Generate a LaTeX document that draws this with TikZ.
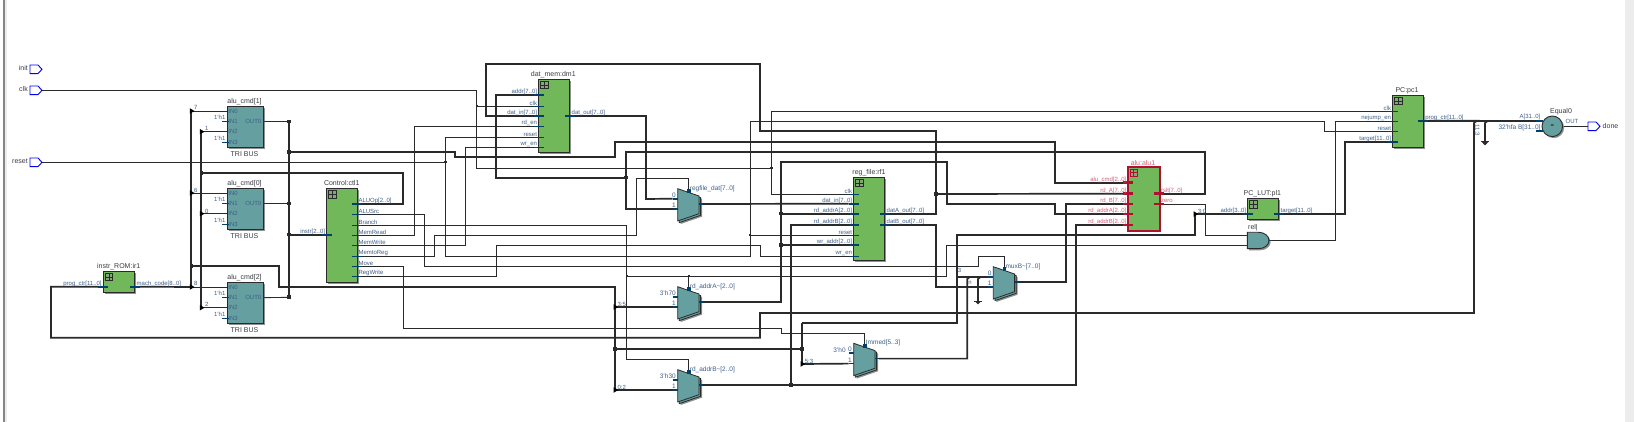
\documentclass[tikz,border=0pt]{standalone}
\usepackage{fontspec}
\setmainfont{Liberation Sans}
\usetikzlibrary{backgrounds}
\definecolor{wirec}{HTML}{2A2A2A}
\definecolor{pinc}{HTML}{00406A}
\definecolor{blockg}{HTML}{70B85A}
\definecolor{blockt}{HTML}{669F9F}
\definecolor{shadowc}{HTML}{909090}
\definecolor{plabc}{HTML}{3E5F8A}
\definecolor{instc}{HTML}{3A3A45}
\definecolor{alur}{HTML}{B01030}
\definecolor{alup}{HTML}{D0607A}
\definecolor{portb}{HTML}{0000F0}
\definecolor{stripd}{HTML}{858585}
\definecolor{stripl}{HTML}{ECECEC}
\newcounter{lbl}
\tikzset{
  W/.style={draw=wirec,line width=.85pt},
  B/.style={draw=wirec,line width=1.7pt},
  thn/.style={draw=pinc,line width=.85pt},
  thk/.style={draw=pinc,line width=1.7pt},
  plab/.style={text=plabc,font=\fontsize{6}{7}\selectfont,inner sep=0pt},
  ilab/.style={text=instc,font=\fontsize{7}{8}\selectfont,inner sep=0pt},
  tlab/.style={text=plabc,font=\fontsize{6.5}{7}\selectfont,inner sep=0pt},
  grbox/.style={draw=wirec,line width=.9pt,fill=blockg,inner sep=0pt,outer sep=0pt},
  tlbox/.style={draw=wirec,line width=.9pt,fill=blockt,inner sep=0pt,outer sep=0pt},
  redbox/.style={draw=alur,line width=2pt,fill=blockg,inner sep=0pt,outer sep=0pt},
  iconl/.style={draw=wirec,line width=.9pt,fill=blockg!70!black!70},
  pinl/.style={},
}
\newcommand\txt[4][plab]{\stepcounter{lbl}\node[#1,#4] (t\thelbl) at (#2) {#3};}
% block: name x1 y1 x2 y2 style
\newcommand\blk[6]{%
  \fill[shadowc] ({#2+1.6},{#3+1.6}) rectangle ({#4+1.6},{#5+1.6});
  \node[#6,minimum width={(#4-(#2))*1pt},minimum height={(#5-(#3))*1pt}] (#1) at ({(#2+#4)/2},{(#3+#5)/2}) {};}
\newcommand\icon[2]{%
  \draw[iconl] ({#1+2},{#2+2}) rectangle ({#1+9.5},{#2+9.5});
  \draw[iconl] ({#1+5.75},{#2+2}) -- ({#1+5.75},{#2+9.5}) ({#1+2},{#2+5.75}) -- ({#1+9.5},{#2+5.75});}
\newcommand\pinL[5]{%
  \coordinate (#1) at ({#2-5},#3);
  \draw[#5,pinl] ({#2-5},#3) -- ({#2+5},#3);
  \txt{{#2-1.5},{#3-3.2}}{#4}{anchor=east}}
\newcommand\pinR[5]{%
  \coordinate (#1) at ({#2+5},#3);
  \draw[#5,pinl] ({#2-5},#3) -- ({#2+5},#3);
  \txt{{#2+1.8},{#3-3.2}}{#4}{anchor=west}}
\newcommand\tribus[2]{%
  \blk{#1}{227.7}{#2}{263.3}{#2+40.6}{tlbox}
  \coordinate (#1-in0) at (227.7,{#2+4.3});
  \coordinate (#1-in2) at (227.7,{#2+25});
  \coordinate (#1-out) at (263.3,{#2+15});
  \draw[thn] (222.3,{#2+15}) -- (228.5,{#2+15});
  \draw[thn] (222.3,{#2+35.3}) -- (228.5,{#2+35.3});
  \draw[thn] (263.3,{#2+15}) -- (267,{#2+15});
  \foreach \yy/\tt in {4.3/IN0,15/IN1,25/IN2,35.3/IN3}{\txt{233,{#2+\yy}}{\tt}{}}
  \txt{253.3,{#2+15}}{OUT0}{}
  \txt{219.7,{#2+10.6}}{1'h1}{}
  \txt{219.7,{#2+32}}{1'h1}{}
  \txt[ilab]{244.5,{#2+47.4}}{TRI BUS}{}}
% mux: name xl yt label
\newcommand\muxc[4]{%
  \fill[shadowc] ({#2+3},{#3+3}) -- ({#2+24.3},{#3+10.3}) -- ({#2+24.3},{#3+28}) -- ({#2+3},{#3+35.3}) -- cycle;
  \draw[draw=wirec,fill=blockt,line width=.8pt] ({#2+1.6},{#3+1.6}) -- ({#2+22.9},{#3+8.9}) -- ({#2+22.9},{#3+26.6}) -- ({#2+1.6},{#3+33.9}) -- cycle;
  \draw[draw=wirec,fill=blockt,line width=.8pt] (#2,#3) -- ({#2+21.3},{#3+7.3}) -- ({#2+21.3},{#3+25}) -- (#2,{#3+32.3}) -- cycle;
  \coordinate (#1-in0) at ({#2-5},{#3+10});
  \coordinate (#1-in1) at ({#2-5},{#3+20.3});
  \coordinate (#1-out) at ({#2+25.3},{#3+15.3});
  \coordinate (#1-sel) at ({#2+11},{#3+2.6});
  \draw[thk] ({#2-5},{#3+10}) -- (#2,{#3+10});
  \draw[thk] ({#2-5},{#3+20.3}) -- (#2,{#3+20.3});
  \draw[thk] ({#2+21.3},{#3+15.3}) -- ({#2+25.3},{#3+15.3});
  \fill[pinc] ({#2+9.2},{#3+.6}) rectangle ({#2+12.8},{#3+4.4});
  \txt[tlab]{{#2+12},{#3}}{#4}{anchor=west}
  \txt[tlab]{{#2-3.7},{#3+6.3}}{0}{}
  \txt[tlab]{{#2-3.7},{#3+16.6}}{1}{}}
\newcommand\inpent[3]{%
  \coordinate (#1) at (42,#2);
  \draw[portb,fill=white,line width=.9pt] (30,{#2-4.3}) -- (38,{#2-4.3}) -- (42,#2) -- (38,{#2+4.3}) -- (30,{#2+4.3}) -- cycle;
  \txt[ilab]{28,{#2-1}}{#3}{anchor=east}}
\newcommand\rip[3]{\coordinate (#1) at (#2,#3);\fill[black] ({#2-1.5},{#3-2.8}) -- ({#2+3.2},#3) -- ({#2-1.5},{#3+2.8}) -- cycle;}
\newcommand\jn[3]{\coordinate (#1) at (#2,#3);\fill[wirec] ({#2-1.8},{#3-1.8}) rectangle ({#2+1.8},{#3+1.8});}
\newcommand\jt[3]{\coordinate (#1) at (#2,#3);\fill[wirec] ({#2-1.2},{#3-1.2}) rectangle ({#2+1.2},{#3+1.2});}
\newcommand\gnd[2]{%
  \draw[wirec,line width=1pt] ({#1-3.6},#2) -- ({#1+3.6},#2);
  \fill[wirec] ({#1-3.2},#2) -- ({#1+3.2},#2) -- (#1,{#2+3.4}) -- cycle;}
\begin{document}
\begin{tikzpicture}[x=1pt,y=-1pt]
\useasboundingbox (0,0) rectangle (1634,422);
\begin{scope}[on background layer]
\fill[white] (0,0) rectangle (1634,422);
\fill[stripl] (4.5,0) rectangle (7.3,422);
\fill[stripd] (3,0) rectangle (4.5,422);
\fill[stripl] (1625,0) rectangle (1634,422);
\end{scope}
% I/O ports
\inpent{initp}{69.3}{init}
\inpent{clkp}{90.3}{clk}
\inpent{rstp}{162.3}{reset}
% instr ROM
\blk{ir}{103.3}{271.3}{134.7}{292.7}{grbox}
\icon{103.3}{271.3}
\txt[ilab]{118.7,266.7}{instr\_ROM:ir1}{}
\pinL{ir-in}{103.3}{286.7}{prog\_ctr[11..0]}{thk}
\pinR{ir-out}{134.7}{286.7}{mach\_code[8..0]}{thk}
% tri bus
\tribus{cmda}{106.7}
\tribus{cmdb}{188.7}
\tribus{cmdc}{282.7}
\txt[ilab]{244.5,101.7}{alu\_cmd[1]}{}
\txt[ilab]{244.5,183.7}{alu\_cmd[0]}{}
\txt[ilab]{244.5,277.7}{alu\_cmd[2]}{}
% control
\blk{ctl}{326.7}{188.7}{357.7}{282.3}{grbox}
\icon{326.7}{188.7}
\txt[ilab]{341.7,183.3}{Control:ctl1}{}
\pinL{ctl-instr}{326.7}{234.7}{instr[2..0]}{thk}
\pinR{ctl-aluop}{356.5}{203.7}{ALUOp[2..0]}{thk}
\pinR{ctl-alusrc}{356.5}{214.3}{ALUSrc}{thn}
\pinR{ctl-branch}{356.5}{225.3}{Branch}{thn}
\pinR{ctl-memrd}{356.5}{235.3}{MemRead}{thn}
\pinR{ctl-memwr}{356.5}{245.3}{MemWrite}{thn}
\pinR{ctl-mtr}{356.5}{256.3}{MemtoReg}{thn}
\pinR{ctl-move}{356.5}{266.3}{Move}{thn}
\pinR{ctl-regw}{356.5}{276.3}{RegWrite}{thn}
% data mem
\blk{dm}{538.7}{79.3}{569.7}{152.7}{grbox}
\icon{538.7}{79.3}
\txt[ilab]{553.3,74.7}{dat\_mem:dm1}{}
\pinL{dm-addr}{538.7}{94.7}{addr[7..0]}{thk}
\pinL{dm-clk}{538.7}{106.3}{clk}{thn}
\pinL{dm-din}{538.7}{116}{dat\_in[7..0]}{thk}
\pinL{dm-rd}{538.7}{126.3}{rd\_en}{thn}
\pinL{dm-rst}{538.7}{137.3}{reset}{thn}
\pinL{dm-wr}{538.7}{147.3}{wr\_en}{thn}
\pinR{dm-out}{569.7}{116}{dat\_out[7..0]}{thk}
% reg file
\blk{rf}{853.7}{177.3}{884.7}{260.3}{grbox}
\icon{853.7}{177.3}
\txt[ilab]{869,172.7}{reg\_file:rf1}{}
\pinL{rf-clk}{853.7}{194.3}{clk}{thn}
\pinL{rf-din}{853.7}{203.7}{dat\_in[7..0]}{thk}
\pinL{rf-ra}{853.7}{213.7}{rd\_addrA[2..0]}{thk}
\pinL{rf-rb}{853.7}{224.7}{rd\_addrB[2..0]}{thk}
\pinL{rf-rst}{853.7}{235.3}{reset}{thn}
\pinL{rf-wa}{853.7}{245}{wr\_addr[2..0]}{thk}
\pinL{rf-we}{853.7}{256.3}{wr\_en}{thn}
\pinR{rf-a}{884.7}{214}{datA\_out[7..0]}{thk}
\pinR{rf-b}{884.7}{225}{datB\_out[7..0]}{thk}
% alu
\node[redbox,minimum width=32pt,minimum height=64pt] (alu) at (1144,199) {};
\begin{scope}[plab/.style={text=alup,font=\fontsize{6}{7}\selectfont,inner sep=0pt},pinl/.style={draw=alur,line width=2.6pt},ilab/.style={text=alup,font=\fontsize{7}{8}\selectfont,inner sep=0pt},iconl/.style={draw=alur,line width=.9pt,fill=blockg!70!black!70}]
\icon{1128}{167}
\txt[ilab]{1143,162.7}{alu:alu1}{}
\pinL{alu-cmd}{1128}{182.7}{alu\_cmd[2..0]}{thk}
\pinL{alu-a}{1128}{193.7}{rd\_A[7..0]}{thk}
\pinL{alu-b}{1128}{204}{rd\_B[7..0]}{thk}
\pinL{alu-ra}{1128}{214}{rd\_addrA[2..0]}{thk}
\pinL{alu-rb}{1128}{225}{rd\_addrB[2..0]}{thk}
\pinR{alu-res}{1159}{193.7}{rslt[7..0]}{thk}
\begin{scope}[pinl/.style={draw=alur,line width=1.6pt}]
\pinR{alu-zero}{1159}{204.3}{zero}{thn}
\end{scope}
\end{scope}
% PC LUT
\blk{lut}{1247.7}{198.7}{1278.7}{219.3}{grbox}
\icon{1247.7}{198.7}
\txt[ilab]{1262.3,193.3}{PC\_LUT:pl1}{}
\pinL{lut-addr}{1247.7}{214}{addr[3..0]}{thk}
\pinR{lut-tgt}{1278.7}{214}{target[11..0]}{thk}
% PC
\blk{pc}{1392.7}{95.3}{1423.3}{147.3}{grbox}
\icon{1392.7}{95.3}
\txt[ilab]{1407,90.7}{PC:pc1}{}
\pinL{pc-clk}{1392.7}{111.3}{clk}{thn}
\pinL{pc-nj}{1392.7}{121.3}{nejump\_en}{thn}
\pinL{pc-rst}{1392.7}{131.7}{reset}{thn}
\pinL{pc-tgt}{1392.7}{141.7}{target[11..0]}{thk}
\pinR{pc-out}{1423.3}{120.7}{prog\_ctr[11..0]}{thk}
% muxes
\muxc{mr}{677.7}{188.7}{regfile\_dat[7..0]}
\muxc{ma}{677.7}{286.7}{rd\_addrA\textasciitilde[2..0]}
\muxc{mb}{677.7}{369.7}{rd\_addrB\textasciitilde[2..0]}
\muxc{im}{853.7}{343.3}{Immed[5..3]}
\muxc{mx}{993.3}{266.7}{muxB\textasciitilde[7..0]}
\txt[tlab]{666,292.7}{3'h7}{}
\txt[tlab]{666,375.7}{3'h3}{}
\txt[tlab]{839.5,349.7}{3'h0}{}
% AND gate
\fill[shadowc] (1248.9,233.9) -- (1260.1,233.9) .. controls (1266.1,233.9) and (1270.6,237.6) .. (1270.6,242.1) .. controls (1270.6,246.6) and (1266.1,250.3) .. (1260.1,250.3) -- (1248.9,250.3) -- cycle;
\draw[draw=wirec,fill=blockt,line width=.9pt] (1247.3,232.3) -- (1258.5,232.3) .. controls (1264.5,232.3) and (1269,236) .. (1269,240.5) .. controls (1269,245) and (1264.5,248.7) .. (1258.5,248.7) -- (1247.3,248.7) -- cycle;
\txt[ilab]{1253,228}{rel|}{}
\coordinate (an-a) at (1242,235.3);
\coordinate (an-b) at (1242,245.3);
\coordinate (an-y) at (1272,240.3);
\draw[thn] (an-a) -- (1248,235.3);
\draw[thn] (an-b) -- (1248,245.3);
\draw[thn] (1269,240.3) -- (an-y);
% equal
\fill[shadowc] (1553.8,127.8) circle (10.3);
\node[circle,draw=wirec,fill=blockt,line width=.9pt,minimum size=20.6pt,inner sep=0pt,outer sep=0pt,font=\fontsize{6}{7}\selectfont] (eq) at (1552.3,126.3) {=};
\txt[ilab]{1561,111.7}{Equal0}{}
\txt{1530,117}{A[31..0]}{}
\txt[tlab]{1519.5,127.5}{32'hfa B[31..0]}{}
\coordinate (eq-a) at (1541,120.7);
\coordinate (eq-y) at (1563,126.3);
\draw[thk] (1536,130.7) -- (1542.5,130.7);
\draw[thk] (1536,120.7) -- (1542.5,120.7);
\txt{1572,121.7}{OUT}{}
\coordinate (dn) at (1588,126.3);
\draw[portb,fill=white,line width=.9pt] (1588,122) -- (1596,122) -- (1600,126.3) -- (1596,130.6) -- (1588,130.6) -- cycle;
\txt[ilab]{1602.5,125.7}{done}{anchor=west}
% junctions, rippers
\rip{r7}{191.3}{111}
\rip{r1}{201.3}{131.7}
\rip{r6}{191.3}{193}
\rip{r0}{201.3}{213.7}
\rip{r8}{191.3}{287}
\rip{r2}{201.3}{307.7}
\rip{ra}{615}{307}
\rip{rb}{615}{390}
\rip{ri}{802}{364}
\rip{rl}{1195}{214}
\jn{jc1}{288.7}{121.7}
\jn{jc0}{288.7}{203.7}
\jn{jc2}{288.7}{297.3}
\jn{ja}{288.7}{152}
\jn{ji}{288.7}{234.7}
\jn{jop}{201.3}{173}
\jn{jbu}{191.3}{266}
\jn{jres}{626}{177.7}
\jn{jra}{780.7}{213.7}
\jn{jwa}{780.7}{245}
\jn{jrb}{791}{384.7}
\jn{jda}{936}{194}
\jn{jim}{615}{348.7}
\jn{jim2}{802}{348.7}
\jt{jclk}{476.7}{106.3}
\jt{jclk2}{771.3}{168.3}
\jt{jrst}{445.3}{162.3}
\jt{jrst2}{750}{235.3}
\jt{jbr}{626.7}{276.3}
\jt{jbr2}{688.7}{276.3}
\jt{jlb}{957}{276.7}
\gnd{978}{301}
\gnd{1485}{142}
\txt{195.7,107}{7}{}
\txt{206.7,128}{1}{}
\txt{195.7,190}{6}{}
\txt{206.7,211}{0}{}
\txt{195.7,283}{8}{}
\txt{206.7,304}{2}{}
\txt{621.7,304.3}{3:5}{}
\txt{621.7,387.3}{0:2}{}
\txt{809,361.7}{5:3}{}
\txt{1202,211}{3:0}{}
\txt{959.5,270}{3}{}
\txt{970,282.5}{n}{}
\txt{1477.5,130.5}{11:3}{rotate=-90}
% wires
\begin{scope}[on background layer]
\draw[W] (clkp) -- (476.7,90.3) -- (476.7,168.3) -- (jclk2) -- (771.3,111.3) -- (pc-clk);
\draw[W] (jclk) -- (dm-clk);
\draw[W] (jclk2) -- (771.3,194.3) -- (rf-clk);
\draw[W] (rstp) -- (jrst);
\draw[W] (dm-rst) -- (445.3,137.3) -- (445.3,256.3) -- (750,256.3) -- (750,121.3) -- (1324.3,121.3) -- (1324.3,131.7) -- (pc-rst);
\draw[W] (jrst2) -- (rf-rst);
\draw[W] (ctl-alusrc) -- (424.7,214.3) -- (424.7,266.3) -- (978.3,266.3) -- (978.3,256.7) -- (1004.3,256.7) -- (mx-sel);
\draw[W] (ctl-branch) -- (626.7,225.3) -- (626.7,359.3) -- (688.7,359.3) -- (mb-sel);
\draw[W] (jbr) -- (946.7,276.3) -- (946.7,245.3) -- (an-b);
\draw[W] (jbr2) -- (ma-sel);
\draw[W] (ctl-memrd) -- (414.3,235.3) -- (414.3,126.3) -- (dm-rd);
\draw[W] (ctl-memwr) -- (465.3,245.3) -- (465.3,147.3) -- (dm-wr);
\draw[W] (ctl-mtr) -- (434.7,256.3) -- (434.7,235.3) -- (636.7,235.3) -- (636.7,178.3) -- (688.7,178.3) -- (mr-sel);
\draw[W] (ctl-move) -- (403.3,266.3) -- (403.3,328.3) -- (781.7,328.3) -- (781.7,333.3) -- (864.7,333.3) -- (im-sel);
\draw[W] (ctl-regw) -- (496.7,276.3) -- (496.7,245.3) -- (760.7,245.3) -- (760.7,256.3) -- (rf-we);
\draw[W] (alu-zero) -- (1205.7,204.3) -- (1205.7,235.3) -- (an-a);
\draw[W] (an-y) -- (1335.3,240.3) -- (1335.3,121.3) -- (pc-nj);
\draw[W] (eq) -- (dn);
\draw[W] (r7) -- (cmda-in0);
\draw[W] (r1) -- (cmda-in2);
\draw[W] (r6) -- (cmdb-in0);
\draw[W] (r0) -- (cmdb-in2);
\draw[W] (r8) -- (cmdc-in0);
\draw[W] (r2) -- (cmdc-in2);
\draw[W] (cmda-out) -- (jc1);
\draw[W] (cmdb-out) -- (jc0);
\draw[W] (cmdc-out) -- (jc2);
% thick buses
\draw[B] (ir-out) -- (r8);
\draw[B] (r7) -- (r8);
\draw[B] (r1) -- (r2);
\draw[B] (jc1) -- (jc2);
\draw[B] (ctl-aluop) -- (403,203.7) -- (403,173) -- (jop);
\draw[B] (ctl-instr) -- (ji);
\draw[B] (ja) -- (455,152) -- (455,157) -- (615,157) -- (615,142) -- (1055,142) -- (1055,182.7) -- (alu-cmd);
\draw[B] (ir-in) -- (51,286.7) -- (51,337.7) -- (760,337.7) -- (760,313) -- (1474,313) -- (1474,123) -- (1477,120.7) -- (pc-out);
\draw[B] (pc-out) -- (eq-a);
\draw[B] (jbu) -- (279,266) -- (279,287) -- (615,287) -- (rb);
\draw[B] (ra) -- (ma-in1);
\draw[B] (rb) -- (mb-in1);
\draw[B] (jim) -- (jim2);
\draw[B] (802,323) -- (ri) -- (im-in1);
\draw[B] (802,323) -- (957,323) -- (957,235) -- (1195,235) -- (rl) -- (lut-addr);
\draw[B] (jlb) -- (mx-in0);
\draw[B] (dm-din) -- (486.3,116) -- (486.3,64) -- (760,64) -- (760,130.7) -- (936,130.7) -- (936,214) -- (rf-a);
\draw[B] (jda) -- (alu-a);
\draw[B] (alu-res) -- (1205,193.7) -- (1205,152) -- (626,152) -- (626,209) -- (mr-in1);
\draw[B] (jres) -- (496.3,177.7) -- (496.3,94.7) -- (dm-addr);
\draw[B] (dm-out) -- (646,116) -- (646,199) -- (mr-in0);
\draw[B] (mr-out) -- (rf-din);
\draw[B] (ma-out) -- (780.7,302) -- (780.7,161.7) -- (947,161.7) -- (947,204) -- (1055,204) -- (1055,214) -- (alu-ra);
\draw[B] (jra) -- (rf-ra);
\draw[B] (jwa) -- (rf-wa);
\draw[B] (mb-out) -- (1076,385) -- (1076,225) -- (alu-rb);
\draw[B] (jrb) -- (791,224.7) -- (rf-rb);
\draw[B] (rf-b) -- (936,225) -- (936,287) -- (mx-in1);
\draw[B] (mx-out) -- (1066,282) -- (1066,204) -- (alu-b);
\draw[B] (im-out) -- (967.3,358.6) -- (967.3,279) -- (970,276.7);
\draw[B] (978,301) -- (978,279) -- (981,276.7);
\draw[B] (pc-tgt) -- (1345,141.7) -- (1345,214) -- (lut-tgt);
\draw[B] (1485,142) -- (1485,123) -- (1488,120.7);
\end{scope}
\end{tikzpicture}
\end{document}
